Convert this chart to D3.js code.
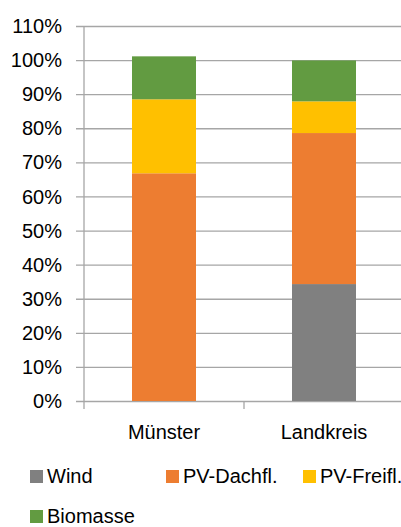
<!DOCTYPE html>
<html>
<head>
<meta charset="utf-8">
<script src="https://cdn.jsdelivr.net/npm/d3@7"></script>
<style>
  body { margin: 0; background: #fff; }
  text { font-family: "Liberation Sans", Arial, sans-serif; fill: #000; }
</style>
</head>
<body>
<svg id="chart"></svg>
<script>
const categories = ["Münster", "Landkreis"];
const seriesNames = ["Wind", "PV-Dachfl.", "PV-Freifl.", "Biomasse"];
const wind = [0, 34.3];
const pvDach = [66.8, 44.3];
const pvFrei = [21.7, 9.3];
const biomasse = [12.6, 12.0];
const yTicks = [0, 10, 20, 30, 40, 50, 60, 70, 80, 90, 100, 110];
const colors = ["#808080", "#ED7D31", "#FFC000", "#629B41"];

const chartSize = {width: 401, height: 527};
const margin = {left: 84, right: -3, top: 26, bottom: 126};
const width = chartSize.width - margin.left - margin.right;
const height = chartSize.height - margin.top - margin.bottom;

const svg = d3.select("#chart")
  .attr("width", chartSize.width)
  .attr("height", chartSize.height);

const g = svg.append("g")
  .attr("transform", `translate(${margin.left},${margin.top})`);

const rows = categories.map((c, i) => ({
  cat: c, "Wind": wind[i], "PV-Dachfl.": pvDach[i], "PV-Freifl.": pvFrei[i], "Biomasse": biomasse[i]
}));

const band = d3.scaleBand().domain(categories).range([0, width]);
const y = d3.scaleLinear().domain([0, 110]).range([height, 0]);

// gridlines + y labels
const yAxis = d3.axisLeft(y).tickValues(yTicks).tickSize(0).tickFormat(d => d + "%");
const ya = g.append("g").call(yAxis);
ya.select(".domain").remove();
ya.selectAll("line").attr("stroke", "#a6a6a6").attr("stroke-width", 1.3).attr("x1", -8).attr("x2", width);
ya.selectAll("text").attr("x", -22).attr("dy", "0.33em").attr("font-size", 20)
  .attr("font-family", "Liberation Sans, Arial, sans-serif");

// vertical axis line
g.append("line").attr("x1", 0).attr("x2", 0).attr("y1", 0).attr("y2", height + 8)
  .attr("stroke", "#a6a6a6").attr("stroke-width", 1.3);

// category separators
band.domain().forEach((c, i) => {
  if (i === 0) return;
  g.append("line").attr("x1", band(c)).attr("x2", band(c)).attr("y1", height).attr("y2", height + 8)
    .attr("stroke", "#a6a6a6").attr("stroke-width", 1.3);
});

const stacked = d3.stack().keys(seriesNames)(rows);
g.selectAll("g.layer").data(stacked).enter().append("g")
  .attr("class", "layer")
  .attr("fill", (d, i) => colors[i])
  .selectAll("rect").data(d => d).enter().append("rect")
  .attr("x", d => band(d.data.cat) + (band.bandwidth() - 64) / 2)
  .attr("width", 64)
  .attr("y", d => y(d[1]))
  .attr("height", d => y(d[0]) - y(d[1]));

// category labels
g.selectAll("text.cat").data(categories).enter().append("text")
  .attr("class", "cat")
  .attr("x", d => band(d) + band.bandwidth() / 2)
  .attr("y", height + 38)
  .attr("text-anchor", "middle")
  .attr("font-size", 20)
  .text(d => d);

// legend
const legendPos = [[30, 483], [166, 483], [303, 483], [30, 523]];
const lg = svg.selectAll("g.legend").data(seriesNames).enter().append("g")
  .attr("class", "legend")
  .attr("transform", (d, i) => `translate(${legendPos[i][0]},${legendPos[i][1]})`);
lg.append("rect").attr("x", 0).attr("y", -13).attr("width", 13).attr("height", 13)
  .attr("fill", (d, i) => colors[i]);
lg.append("text").attr("x", 17).attr("y", 0).attr("font-size", 20).text(d => d);
</script>
</body>
</html>
